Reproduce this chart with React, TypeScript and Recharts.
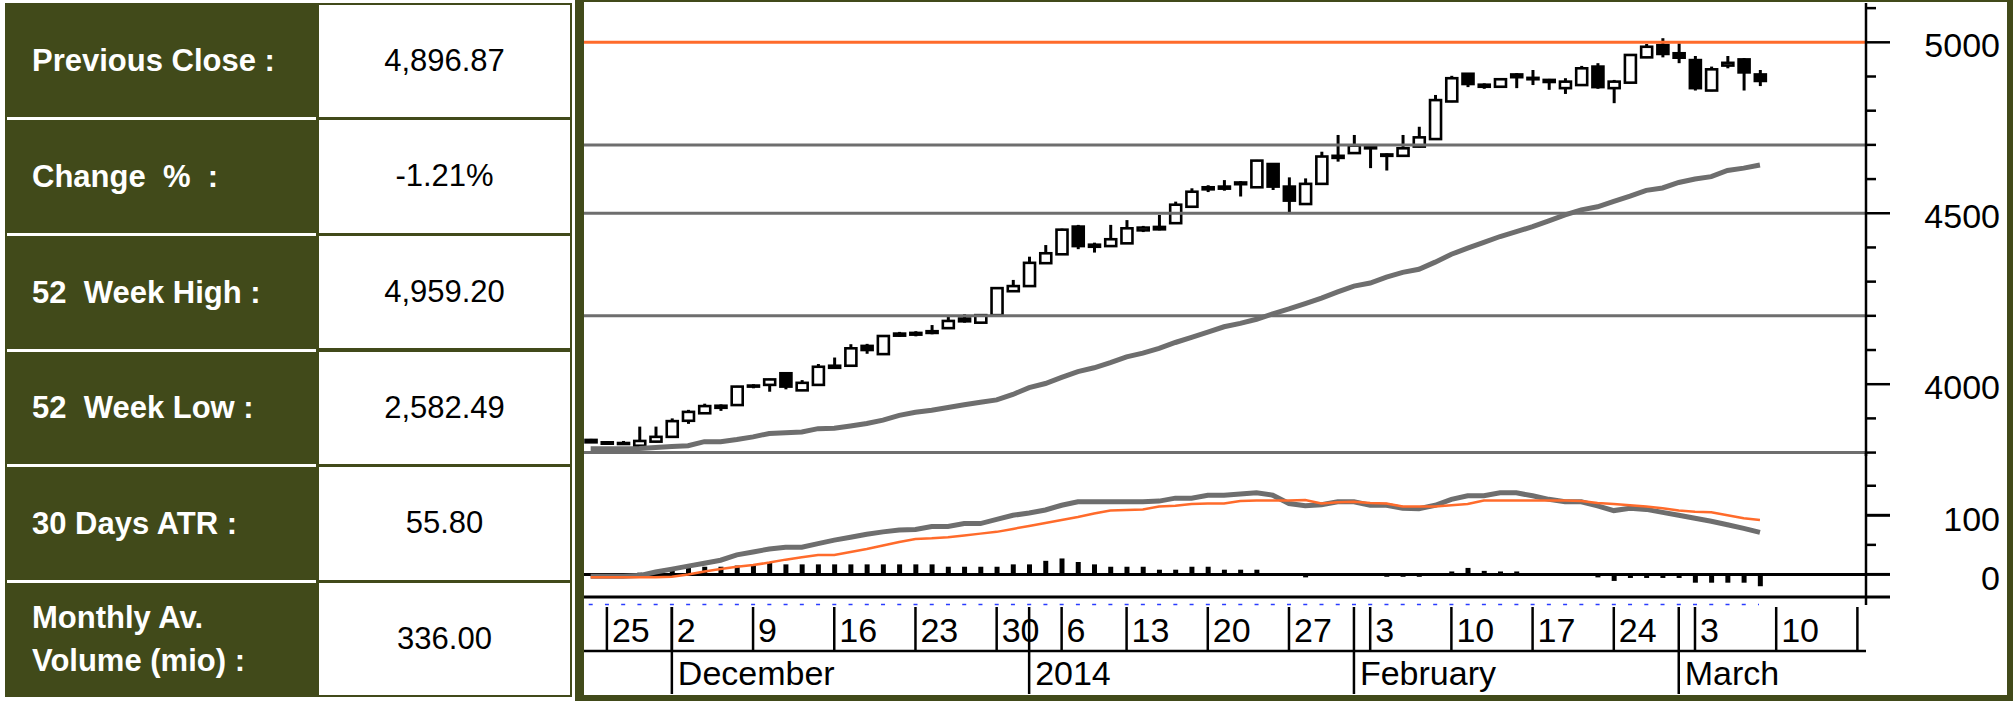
// ═══════════════════════════════════════════════════════════
// Index snapshot — stats table + candlestick / MACD chart
// ═══════════════════════════════════════════════════════════

import { ComposedChart, Bar, Line, XAxis, YAxis, ReferenceLine } from 'recharts';

const FONT = '"Liberation Sans", Arial, sans-serif';
const OLIVE = '#414a1a';
const GREY = '#6e6e6e';
const ORANGE = '#ff6b2b';

// ── stats table ────────────────────────────────────────────
const statLabels = [
  'Previous Close :',
  'Change  %  :',
  '52  Week High :',
  '52  Week Low :',
  '30 Days ATR :',
  'Monthly Av.\nVolume (mio) :',
];
const statValues = ['4,896.87', '-1.21%', '4,959.20', '2,582.49', '55.80', '336.00'];

// ── daily candles, first one is Fri 22 Nov 2013 ───────────
const opens = [
  3837, 3830, 3826, 3820, 3832, 3846, 3893, 3915, 3937, 3939,
  3993, 3998, 4032, 3982, 3998, 4048, 4054, 4112, 4088, 4142,
  4145, 4150, 4164, 4192, 4180, 4202, 4272, 4287, 4354, 4380,
  4461, 4408, 4404, 4412, 4450, 4453, 4471, 4519, 4576, 4572,
  4590, 4576, 4644, 4578, 4527, 4586, 4662, 4676, 4698, 4672,
  4668, 4695, 4717, 4827, 4908, 4870, 4870, 4906, 4896, 4890,
  4866, 4875, 4929, 4866, 4882, 4956, 4992, 4968, 4948, 4859,
  4932, 4950, 4906,
];
const highs = [
  3840, 3833, 3834, 3876, 3876, 3900, 3925, 3943, 3941, 3995,
  4000, 4016, 4035, 4012, 4059, 4078, 4117, 4118, 4143, 4153,
  4155, 4173, 4198, 4205, 4205, 4283, 4305, 4373, 4407, 4455,
  4466, 4414, 4466, 4480, 4463, 4495, 4534, 4573, 4582, 4597,
  4594, 4656, 4646, 4605, 4602, 4680, 4729, 4729, 4700, 4675,
  4729, 4753, 4846, 4902, 4910, 4880, 4894, 4910, 4919, 4893,
  4895, 4931, 4939, 4890, 4965, 4995, 5012, 4997, 4960, 4929,
  4960, 4954, 4919,
];
const lows = [
  3828, 3824, 3823, 3818, 3830, 3845, 3884, 3913, 3922, 3937,
  3988, 3978, 3985, 3980, 3996, 4045, 4052, 4089, 4086, 4138,
  4140, 4146, 4162, 4180, 4178, 4200, 4270, 4285, 4352, 4378,
  4395, 4385, 4402, 4410, 4445, 4450, 4469, 4517, 4562, 4566,
  4549, 4574, 4568, 4500, 4525, 4584, 4651, 4674, 4632, 4625,
  4666, 4693, 4715, 4825, 4869, 4864, 4868, 4866, 4875, 4861,
  4849, 4873, 4864, 4822, 4880, 4954, 4956, 4939, 4859, 4857,
  4924, 4859, 4872,
];
const closes = [
  3830, 3826, 3828, 3834, 3846, 3892, 3919, 3936, 3931, 3993,
  3996, 4014, 3993, 4004, 4051, 4054, 4105, 4100, 4141, 4148,
  4150, 4155, 4185, 4184, 4202, 4281, 4287, 4355, 4383, 4452,
  4404, 4402, 4424, 4456, 4458, 4460, 4525, 4563, 4570, 4578,
  4585, 4654, 4578, 4537, 4586, 4666, 4668, 4698, 4690, 4668,
  4690, 4722, 4831, 4895, 4878, 4876, 4892, 4898, 4892, 4884,
  4885, 4924, 4869, 4885, 4963, 4987, 4966, 4955, 4866, 4921,
  4940, 4912, 4887,
];
const movingAvg = [
  3811, 3811, 3811, 3812, 3815, 3818, 3820, 3832, 3832, 3838,
  3846, 3856, 3858, 3860, 3870, 3871, 3878, 3885, 3895, 3909,
  3918, 3924, 3932, 3940, 3947, 3954, 3970, 3990, 4002, 4020,
  4037, 4048, 4063, 4080, 4091, 4105, 4122, 4137, 4152, 4168,
  4178, 4190, 4206, 4220, 4236, 4252, 4270, 4287, 4296, 4313,
  4327, 4336, 4357, 4380, 4398, 4415, 4432, 4446, 4461, 4478,
  4495, 4510, 4519, 4535, 4550, 4567, 4574, 4590, 4600, 4607,
  4625, 4632, 4641,
];

// ── lower panel: oscillator, signal, histogram ────────────
const macdLine = [
  -3, -3, -3, -2, 4, 9, 14, 19, 24, 33,
  38, 43, 46, 46, 52, 58, 63, 68, 72, 75,
  76, 81, 81, 86, 86, 93, 100, 104, 109, 117,
  123, 123, 123, 123, 123, 124, 129, 129, 134, 134,
  136, 138, 134, 120, 116, 118, 123, 123, 117, 117,
  112, 111, 117, 127, 133, 133, 138, 138, 133, 127,
  123, 123, 116, 108, 112, 110, 105, 100, 95, 90,
  84, 78, 71,
];
const signalLine = [
  -5, -5, -5, -5, -5, -4, 0, 5, 9, 13,
  16, 20, 25, 29, 33, 33, 38, 43, 49, 55,
  60, 61, 63, 66, 69, 72, 77, 82, 87, 92,
  97, 103, 108, 109, 110, 115, 116, 119, 120, 120,
  124, 125, 125, 125, 126, 120, 122, 123, 121, 120,
  115, 115, 115, 117, 119, 125, 125, 125, 125, 125,
  125, 124, 121, 119, 117, 115, 112, 108, 106, 105,
  100, 95, 92,
];
const histogram = [
  0, 0, 0, 3, 6, 8, 11, 13, 13, 15,
  17, 21, 17, 17, 17, 17, 17, 17, 17, 17,
  17, 17, 13, 13, 13, 13, 17, 17, 23, 27,
  21, 17, 13, 13, 13, 8, 8, 13, 13, 8,
  8, 8, 2, 0, -5, 0, 0, 0, 0, -4,
  -4, -4, 0, 5, 11, 6, 5, 5, 1, 0,
  0, 0, -5, -11, -6, -6, -6, -6, -14, -14,
  -14, -14, -20,
];

// ── axes ───────────────────────────────────────────────────
const weekTicks = [1, 5, 10, 15, 20, 25, 29, 33, 38, 43, 48, 53, 58, 63, 68, 73, 78];
const weekLabels = ['25', '2', '9', '16', '23', '30', '6', '13', '20', '27', '3', '10', '17', '24', '3', '10', ''];
const monthTicks = [5, 27, 47, 67];
const monthLabels = ['December', '2014', 'February', 'March'];

const priceTicks = [3800, 3900, 4000, 4100, 4200, 4300, 4400, 4500, 4600, 4700, 4800, 4900, 5000, 5100];
const priceLabels = [4000, 4500, 5000];
const supportLines = [4700, 4500, 4200, 3800];
const resistanceLine = 5000;

const oscTicks = [0, 50, 100, 150];
const oscLabels = [0, 100];

const X_DOMAIN: [number, number] = [-0.41, 78.53];
const PRICE_DOMAIN: [number, number] = [3790, 5115];
const OSC_DOMAIN: [number, number] = [-38.2, 205.4];

const data = opens.map((o, i) => ({
  i,
  o,
  h: highs[i],
  l: lows[i],
  c: closes[i],
  ma: movingAvg[i],
  macd: macdLine[i],
  sig: signalLine[i],
  hist: histogram[i],
}));

// ── custom renderers ───────────────────────────────────────
const Candle = (props: any) => {
  const { x, y, width, height, payload } = props;
  if (!payload) return null;
  const { o, h, l, c } = payload;
  const ppu = Math.abs(height) / (h - l);
  const cx = x + width / 2;
  const yO = y + (h - o) * ppu;
  const yC = y + (h - c) * ppu;
  const top = Math.min(yO, yC);
  const bh = Math.max(Math.abs(yO - yC), 1);
  const up = c >= o;
  return (
    <g>
      <line x1={cx} x2={cx} y1={y} y2={y + Math.abs(height)} stroke="#000" strokeWidth={3} />
      <rect x={cx - 5.5} y={top} width={11} height={bh} fill={up ? '#fff' : '#000'} stroke="#000" strokeWidth={2.6} />
    </g>
  );
};

const PriceTick = (props: any) => {
  const { x, y, payload } = props;
  const v = payload.value;
  const major = priceLabels.includes(v);
  return (
    <g>
      <line x1={x} x2={x + (major ? 24 : 10)} y1={y} y2={y} stroke="#000" strokeWidth={2.5} />
      {major && (
        <text x={x + 134} y={y + 15} textAnchor="end" fontSize={34} fontFamily={FONT} fill="#000">
          {v}
        </text>
      )}
    </g>
  );
};

const OscTick = (props: any) => {
  const { x, y, payload } = props;
  const v = payload.value;
  const labelled = oscLabels.includes(v);
  const isEdge = v === OSC_DOMAIN[0];
  return (
    <g>
      <line
        x1={x}
        x2={x + (labelled || isEdge ? 24 : 10)}
        y1={y}
        y2={y}
        stroke="#000"
        strokeWidth={labelled || isEdge ? 3 : 2.5}
      />
      {labelled && (
        <text x={x + 134} y={y + 16} textAnchor="end" fontSize={34} fontFamily={FONT} fill="#000">
          {v}
        </text>
      )}
    </g>
  );
};

const DayTick = (props: any) => {
  const { x, y, payload } = props;
  const label = weekLabels[weekTicks.indexOf(payload.value)];
  return (
    <g>
      <line x1={x} x2={x} y1={y + 10} y2={y + 54} stroke="#000" strokeWidth={2.5} />
      <text x={x + 5} y={y + 45} fontSize={34} fontFamily={FONT} fill="#000">
        {label}
      </text>
    </g>
  );
};

const MonthTick = (props: any) => {
  const { x, y, payload } = props;
  const label = monthLabels[monthTicks.indexOf(payload.value)];
  return (
    <g>
      <line x1={x} x2={x} y1={y - 44} y2={y + 43} stroke="#000" strokeWidth={2.5} />
      <text x={x + 6} y={y + 34} fontSize={34} fontFamily={FONT} fill="#000">
        {label}
      </text>
    </g>
  );
};

// ── stats table ────────────────────────────────────────────
const ROW_H = 694 / 6;

function StatsTable() {
  return (
    <div style={{ position: 'absolute', left: 5, top: 3, width: 567, height: 694, background: OLIVE }}>
      {statLabels.map((label, r) => {
        const top = r * ROW_H;
        return (
          <div key={label}>
            {r > 0 && (
              <div style={{ position: 'absolute', left: 2, top: top - 1.5, width: 309, height: 3, background: '#fff' }} />
            )}
            <div
              style={{
                position: 'absolute', left: 27, top, width: 285, height: ROW_H,
                display: 'flex', alignItems: 'center',
                color: '#fff', fontWeight: 700, fontSize: 31, lineHeight: '43px', whiteSpace: 'pre',
              }}
            >
              <span>{label}</span>
            </div>
            <div
              style={{
                position: 'absolute', left: 314, top: top + 1.5, width: 251, height: ROW_H - 3,
                background: '#fff', display: 'flex', alignItems: 'center', justifyContent: 'center',
                color: '#000', fontSize: 31,
              }}
            >
              {statValues[r]}
            </div>
          </div>
        );
      })}
    </div>
  );
}

export default function App() {
  return (
    <div style={{ position: 'absolute', left: 0, top: 0, width: 2015, height: 703, background: '#fff', fontFamily: FONT }}>
      <StatsTable />

      {/* chart frame */}
      <div
        style={{
          position: 'absolute', left: 575, top: 0, width: 1438, height: 701, boxSizing: 'border-box',
          borderStyle: 'solid', borderColor: OLIVE, borderWidth: '2px 6px 6px 9px', background: '#fff',
        }}
      />

      {/* price panel */}
      <div style={{ position: 'absolute', left: 584, top: 0 }}>
        <ComposedChart width={1421} height={456} data={data} margin={{ top: 3, right: 0, bottom: 0, left: 0 }}>
          <XAxis dataKey="i" type="number" domain={X_DOMAIN} allowDataOverflow hide />
          <YAxis
            orientation="right"
            width={139}
            domain={PRICE_DOMAIN}
            allowDataOverflow
            ticks={priceTicks}
            interval={0}
            tickSize={0}
            tickMargin={0}
            tickLine={false}
            axisLine={{ stroke: '#000', strokeWidth: 2.5 }}
            tick={<PriceTick />}
          />
          <ReferenceLine y={resistanceLine} stroke={ORANGE} strokeWidth={3} />
          {supportLines.map((v) => (
            <ReferenceLine key={v} y={v} stroke={GREY} strokeWidth={3} />
          ))}
          <Line dataKey="ma" stroke={GREY} strokeWidth={5} dot={false} activeDot={false} isAnimationActive={false} />
          <Bar dataKey={(d: any) => [d.l, d.h]} barSize={11} shape={<Candle />} isAnimationActive={false} />
        </ComposedChart>
      </div>

      {/* blue marker row under the oscillator (one dash per session), and the axis stub down to it */}
      <svg style={{ position: 'absolute', left: 584, top: 596 }} width={1290} height={12}>
        <line x1={4.7} x2={1175} y1={8.5} y2={8.5} stroke="#2a3cff" strokeWidth={1.5} strokeDasharray="4 12.24" />
        <line x1={1282} x2={1282} y1={0} y2={9} stroke="#000" strokeWidth={2.5} />
      </svg>

      {/* oscillator panel + date axis */}
      <div style={{ position: 'absolute', left: 584, top: 453 }}>
        <ComposedChart width={1421} height={241} data={data} margin={{ top: 0, right: 0, bottom: 0, left: 0 }}>
          <XAxis
            xAxisId="d"
            dataKey="i"
            type="number"
            domain={X_DOMAIN}
            allowDataOverflow
            ticks={weekTicks}
            interval={0}
            height={54}
            tickSize={0}
            tickMargin={0}
            tickLine={false}
            axisLine={{ stroke: '#000', strokeWidth: 3 }}
            tick={<DayTick />}
          />
          <XAxis
            xAxisId="m"
            dataKey="i"
            type="number"
            domain={X_DOMAIN}
            allowDataOverflow
            ticks={monthTicks}
            interval={0}
            height={43}
            tickSize={0}
            tickMargin={0}
            tickLine={false}
            axisLine={{ stroke: '#000', strokeWidth: 2.5 }}
            tick={<MonthTick />}
          />
          <YAxis
            orientation="right"
            width={139}
            domain={OSC_DOMAIN}
            allowDataOverflow
            ticks={[OSC_DOMAIN[0], ...oscTicks]}
            interval={0}
            tickSize={0}
            tickMargin={0}
            tickLine={false}
            axisLine={{ stroke: '#000', strokeWidth: 2.5 }}
            tick={<OscTick />}
          />
          <ReferenceLine xAxisId="d" y={0} stroke="#000" strokeWidth={3} />
          <Line xAxisId="d" dataKey="macd" stroke={GREY} strokeWidth={5} dot={false} activeDot={false} isAnimationActive={false} />
          <Line xAxisId="d" dataKey="sig" stroke={ORANGE} strokeWidth={2.5} dot={false} activeDot={false} isAnimationActive={false} />
          <Bar xAxisId="d" dataKey="hist" barSize={5} fill="#000" isAnimationActive={false} />
        </ComposedChart>
      </div>
    </div>
  );
}
